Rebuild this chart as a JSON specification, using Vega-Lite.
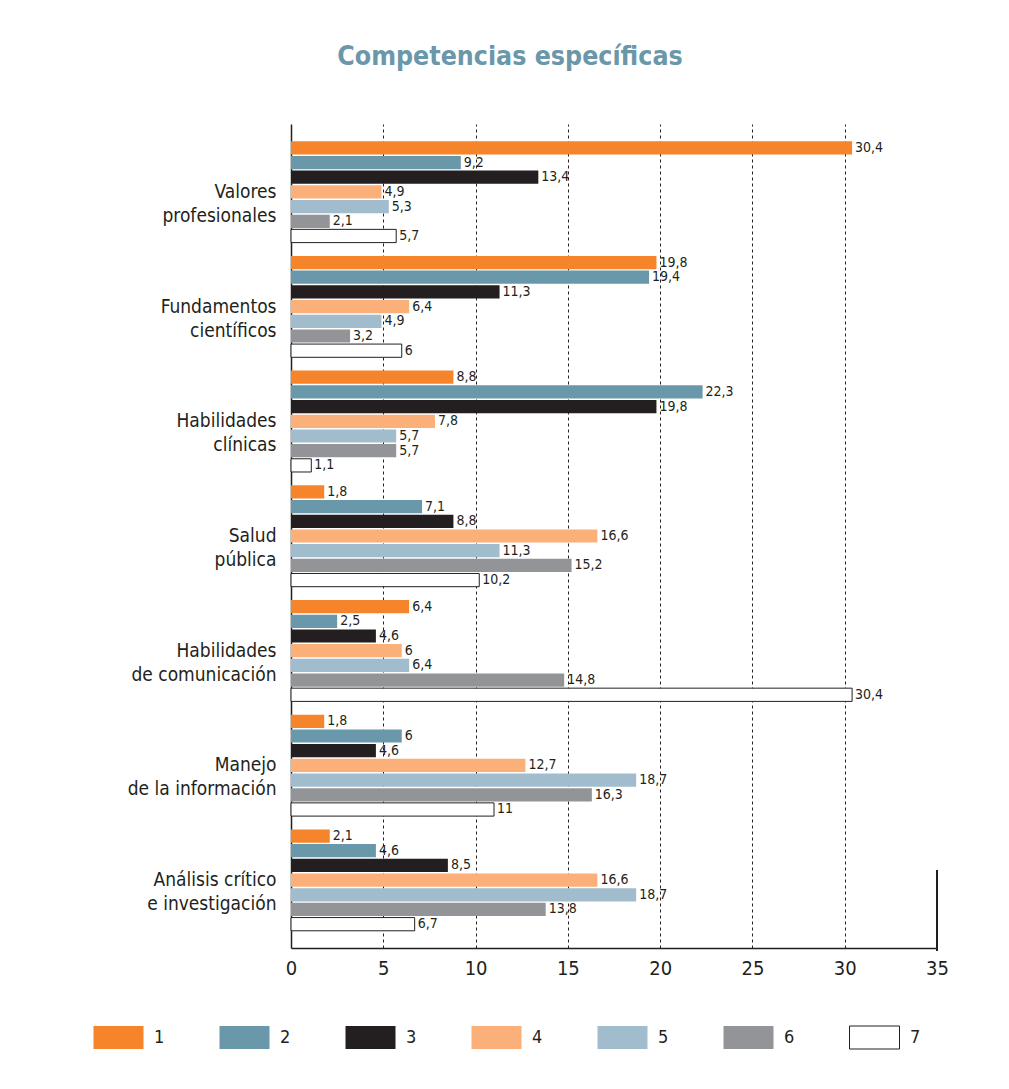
{
  "$schema": "https://vega.github.io/schema/vega-lite/v6.json",
  "autosize": {"type": "none"},
  "width": 646,
  "height": 824,
  "padding": {"left": 291, "top": 124, "right": 72, "bottom": 141},
  "background": "white",
  "config": {
    "locale": {"number": {"decimal": ",", "thousands": ".", "grouping": [3], "currency": ["", " €"]}},
    "view": {"stroke": null},
    "font": "DejaVu Sans Condensed, Roboto, sans-serif",
    "legend": {"columnPadding": 52}
  },
  "title": {
    "text": "Competencias específicas",
    "fontSize": 26.5,
    "fontWeight": "bold",
    "color": "#6a97aa",
    "font": "DejaVu Sans Condensed, Roboto, sans-serif",
    "anchor": "middle",
    "frame": "group",
    "dx": -104,
    "baseline": "alphabetic",
    "offset": 33
  },
  "data": {
    "values": [
      {"cat": "Valores|profesionales", "series": "1", "value": 30.4},
      {"cat": "Valores|profesionales", "series": "2", "value": 9.2},
      {"cat": "Valores|profesionales", "series": "3", "value": 13.4},
      {"cat": "Valores|profesionales", "series": "4", "value": 4.9},
      {"cat": "Valores|profesionales", "series": "5", "value": 5.3},
      {"cat": "Valores|profesionales", "series": "6", "value": 2.1},
      {"cat": "Valores|profesionales", "series": "7", "value": 5.7},
      {"cat": "Fundamentos|científicos", "series": "1", "value": 19.8},
      {"cat": "Fundamentos|científicos", "series": "2", "value": 19.4},
      {"cat": "Fundamentos|científicos", "series": "3", "value": 11.3},
      {"cat": "Fundamentos|científicos", "series": "4", "value": 6.4},
      {"cat": "Fundamentos|científicos", "series": "5", "value": 4.9},
      {"cat": "Fundamentos|científicos", "series": "6", "value": 3.2},
      {"cat": "Fundamentos|científicos", "series": "7", "value": 6},
      {"cat": "Habilidades|clínicas", "series": "1", "value": 8.8},
      {"cat": "Habilidades|clínicas", "series": "2", "value": 22.3},
      {"cat": "Habilidades|clínicas", "series": "3", "value": 19.8},
      {"cat": "Habilidades|clínicas", "series": "4", "value": 7.8},
      {"cat": "Habilidades|clínicas", "series": "5", "value": 5.7},
      {"cat": "Habilidades|clínicas", "series": "6", "value": 5.7},
      {"cat": "Habilidades|clínicas", "series": "7", "value": 1.1},
      {"cat": "Salud|pública", "series": "1", "value": 1.8},
      {"cat": "Salud|pública", "series": "2", "value": 7.1},
      {"cat": "Salud|pública", "series": "3", "value": 8.8},
      {"cat": "Salud|pública", "series": "4", "value": 16.6},
      {"cat": "Salud|pública", "series": "5", "value": 11.3},
      {"cat": "Salud|pública", "series": "6", "value": 15.2},
      {"cat": "Salud|pública", "series": "7", "value": 10.2},
      {"cat": "Habilidades|de comunicación", "series": "1", "value": 6.4},
      {"cat": "Habilidades|de comunicación", "series": "2", "value": 2.5},
      {"cat": "Habilidades|de comunicación", "series": "3", "value": 4.6},
      {"cat": "Habilidades|de comunicación", "series": "4", "value": 6},
      {"cat": "Habilidades|de comunicación", "series": "5", "value": 6.4},
      {"cat": "Habilidades|de comunicación", "series": "6", "value": 14.8},
      {"cat": "Habilidades|de comunicación", "series": "7", "value": 30.4},
      {"cat": "Manejo|de la información", "series": "1", "value": 1.8},
      {"cat": "Manejo|de la información", "series": "2", "value": 6},
      {"cat": "Manejo|de la información", "series": "3", "value": 4.6},
      {"cat": "Manejo|de la información", "series": "4", "value": 12.7},
      {"cat": "Manejo|de la información", "series": "5", "value": 18.7},
      {"cat": "Manejo|de la información", "series": "6", "value": 16.3},
      {"cat": "Manejo|de la información", "series": "7", "value": 11},
      {"cat": "Análisis crítico|e investigación", "series": "1", "value": 2.1},
      {"cat": "Análisis crítico|e investigación", "series": "2", "value": 4.6},
      {"cat": "Análisis crítico|e investigación", "series": "3", "value": 8.5},
      {"cat": "Análisis crítico|e investigación", "series": "4", "value": 16.6},
      {"cat": "Análisis crítico|e investigación", "series": "5", "value": 18.7},
      {"cat": "Análisis crítico|e investigación", "series": "6", "value": 13.8},
      {"cat": "Análisis crítico|e investigación", "series": "7", "value": 6.7}
    ]
  },
  "encoding": {
    "y": {
      "field": "cat",
      "type": "nominal",
      "sort": null,
      "scale": {"paddingInner": 0.116, "paddingOuter": 0.15},
      "axis": {
        "title": null,
        "labelExpr": "split(datum.label, '|')",
        "labelFontSize": 19,
        "labelLineHeight": 24,
        "labelPadding": 15,
        "labelColor": "#231f20",
        "labelFont": "DejaVu Sans Condensed, Roboto, sans-serif",
        "ticks": false,
        "domainColor": "#231f20",
        "domainWidth": 1.5
      }
    },
    "x": {
      "field": "value",
      "type": "quantitative",
      "scale": {"domain": [0, 35], "nice": false},
      "axis": {
        "title": null,
        "values": [0, 5, 10, 15, 20, 25, 30, 35],
        "labelFontSize": 20,
        "labelPadding": 10,
        "labelColor": "#231f20",
        "labelFont": "DejaVu Sans Condensed, Roboto, sans-serif",
        "labelFlush": false,
        "ticks": false,
        "domainColor": "#231f20",
        "domainWidth": 1.5,
        "grid": true,
        "gridColor": "#231f20",
        "gridDash": [3, 3],
        "gridWidth": 1,
        "gridOpacity": {"condition": {"test": "datum.value === 0 || datum.value === 35", "value": 0}, "value": 1}
      }
    }
  },
  "layer": [
    {
      "mark": {"type": "bar", "strokeWidth": 1},
      "encoding": {
        "yOffset": {
          "field": "series",
          "type": "nominal",
          "sort": ["1", "2", "3", "4", "5", "6", "7"],
          "scale": {"paddingInner": 0.1, "paddingOuter": 0}
        },
        "fill": {
          "field": "series",
          "type": "nominal",
          "scale": {
            "domain": ["1", "2", "3", "4", "5", "6", "7"],
            "range": ["#f5842a", "#6a98ab", "#231f20", "#fbb07a", "#a1bdcd", "#939497", "#ffffff"]
          },
          "legend": {
            "title": null,
            "orient": "none",
            "direction": "horizontal",
            "legendX": -198,
            "legendY": 888,
            "symbolType": "M-1,-0.46H1V0.46H-1Z",
            "symbolSize": 2500,
            "symbolStrokeWidth": 1,
            "labelFontSize": 18,
            "labelColor": "#231f20",
            "labelFont": "DejaVu Sans Condensed, Roboto, sans-serif",
            "labelOffset": 10,
            "columnPadding": 52
          }
        },
        "stroke": {
          "field": "series",
          "type": "nominal",
          "scale": {
            "domain": ["1", "2", "3", "4", "5", "6", "7"],
            "range": ["transparent", "transparent", "transparent", "transparent", "transparent", "transparent", "#231f20"]
          },
          "legend": {
            "title": null,
            "orient": "none",
            "direction": "horizontal",
            "legendX": -198,
            "legendY": 888,
            "symbolType": "M-1,-0.46H1V0.46H-1Z",
            "symbolSize": 2500,
            "symbolStrokeWidth": 1,
            "labelFontSize": 18,
            "labelColor": "#231f20",
            "labelFont": "DejaVu Sans Condensed, Roboto, sans-serif",
            "labelOffset": 10,
            "columnPadding": 52
          }
        }
      }
    },
    {
      "mark": {"type": "text", "align": "left", "baseline": "middle", "dx": 3, "fontSize": 14, "color": "#231f20", "font": "DejaVu Sans Condensed, Roboto, sans-serif"},
      "encoding": {
        "yOffset": {
          "field": "series",
          "type": "nominal",
          "sort": ["1", "2", "3", "4", "5", "6", "7"],
          "scale": {"paddingInner": 0.1, "paddingOuter": 0}
        },
        "text": {"field": "value", "type": "quantitative", "format": "~r"}
      }
    },
    {
      "mark": {"type": "rule", "color": "#231f20", "strokeWidth": 1.5},
      "encoding": {
        "x": {"datum": 35},
        "y": {"datum": "Análisis crítico|e investigación", "bandPosition": 0.4},
        "y2": {"datum": "Análisis crítico|e investigación", "bandPosition": 1.2}
      }
    }
  ]
}
